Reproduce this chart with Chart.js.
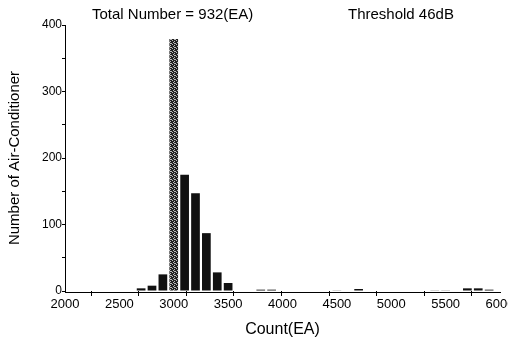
<!DOCTYPE html>
<html>
<head>
<meta charset="utf-8">
<script src="https://cdn.jsdelivr.net/npm/chart.js@4/dist/chart.umd.min.js"></script>
<style>
  html, body { margin: 0; padding: 0; background: #fff; }
  #wrap { width: 508px; height: 351px; }
</style>
</head>
<body>
<div id="wrap"><canvas id="chart"></canvas></div>
<script>
// histogram bins (bin centre, EA) and counts
const bins   = [2700, 2800, 2900, 3000, 3100, 3200, 3300, 3400, 3500, 3800, 3900, 4500, 4700, 5400, 5500, 5700, 5800, 5900];
const counts = [4, 8, 25, 379, 175, 147, 87, 28, 12, 2, 2, 1, 3, 1, 1, 4, 4, 2];
const xTicks = [2000, 2500, 3000, 3500, 4000, 4500, 5000, 5500, 6000];
const xMarks = [2000, 2500, 3000, 3500, 4000, 4500, 5000, 5500];   // baseline tick marks, shifted in the original
const yTicks = [0, 100, 200, 300, 400];
const yMarks = [0, 50, 100, 150, 200, 250, 300, 350, 400];
const titleLeft  = 'Total Number = 932(EA)';
const titleRight = 'Threshold 46dB';

const FONT = "'Liberation Sans', Arial, sans-serif";

// grey stipple for the tallest bar
function stipple() {
    const c = document.createElement('canvas');
    c.width = 4; c.height = 4;
    const g = c.getContext('2d');
    g.fillStyle = '#222';
    g.fillRect(0, 0, 4, 4);
    g.fillStyle = '#bbb';
    g.fillRect(0, 0, 1, 1);
    g.fillRect(2, 1, 1, 1);
    g.fillRect(1, 2, 1, 1);
    g.fillRect(3, 3, 1, 1);
    g.fillRect(2, 3, 1, 1);
    return g.createPattern(c, 'repeat');
}

const peak = Math.max(...counts);
const pat = stipple();
const colors = counts.map(v => v === peak ? pat : '#111');

const headerText = {
    id: 'headerText',
    afterDraw(chart) {
        const ctx = chart.ctx;
        ctx.save();
        ctx.fillStyle = '#000';
        ctx.font = '15px ' + FONT;
        ctx.textBaseline = 'alphabetic';
        ctx.textAlign = 'left';
        ctx.fillText(titleLeft, 92, 19);
        ctx.fillText(titleRight, 348, 19);
        ctx.restore();
    }
};

const data = {
    datasets: [{
        data: bins.map((b, i) => ({ x: b, y: counts[i] })),
        backgroundColor: colors,
        borderWidth: 0,
        barPercentage: 1,
        categoryPercentage: 0.8
    }]
};

const config = {
    type: 'bar',
    data: data,
    options: {
        responsive: true,
        maintainAspectRatio: false,
        animation: false,
        layout: { padding: { top: 25, right: 0, left: 0, bottom: 0 } },
        plugins: {
            legend: { display: false },
            tooltip: { enabled: false }
        },
        scales: {
            x: {
                type: 'linear',
                weight: 1,
                min: 2000,
                max: 6000,
                offset: false,
                afterBuildTicks: s => { s.ticks = xTicks.map(v => ({ value: v })); },
                afterFit: s => { s.height = 59; s.paddingLeft = 0; s.paddingRight = 8; },
                grid: { display: false, drawTicks: false },
                border: { display: true, color: '#000', width: 1 },
                ticks: {
                    color: '#000',
                    font: { family: FONT, size: 13 },
                    padding: 5,
                    maxRotation: 0,
                    autoSkip: false,
                    callback: v => String(v)
                },
                title: {
                    display: true,
                    text: 'Count(EA)',
                    color: '#000',
                    font: { family: FONT, size: 16 },
                    padding: { top: 8, bottom: 12 }
                }
            },
            xt: {
                type: 'linear',
                position: 'bottom',
                axis: 'x',
                display: true,
                weight: 0,
                min: 1760,
                max: 5760,
                afterBuildTicks: s => { s.ticks = xMarks.map(v => ({ value: v })); },
                afterFit: s => { s.height = 1; s.paddingLeft = 0; s.paddingRight = 0; },
                grid: { display: true, drawOnChartArea: false, drawTicks: true, tickLength: 5, color: '#000', lineWidth: 1 },
                border: { display: false },
                ticks: { display: false }
            },
            y: {
                min: 0,
                max: 400,
                afterBuildTicks: s => { s.ticks = yMarks.map(v => ({ value: v })); },
                afterFit: s => { s.width = 65; },
                grid: { drawOnChartArea: false, drawTicks: true, tickLength: 3, color: '#000' },
                border: { display: true, color: '#000', width: 1 },
                ticks: {
                    color: '#000',
                    font: { family: FONT, size: 12 },
                    padding: 0,
                    autoSkip: false,
                    callback: v => yTicks.includes(v) ? String(v) : ''
                },
                title: {
                    display: true,
                    text: 'Number of Air-Conditioner',
                    color: '#000',
                    font: { family: FONT, size: 15 },
                    padding: { top: 6, bottom: 10 }
                }
            }
        }
    },
    plugins: [headerText]
};

new Chart(document.getElementById('chart'), config);
</script>
</body>
</html>
